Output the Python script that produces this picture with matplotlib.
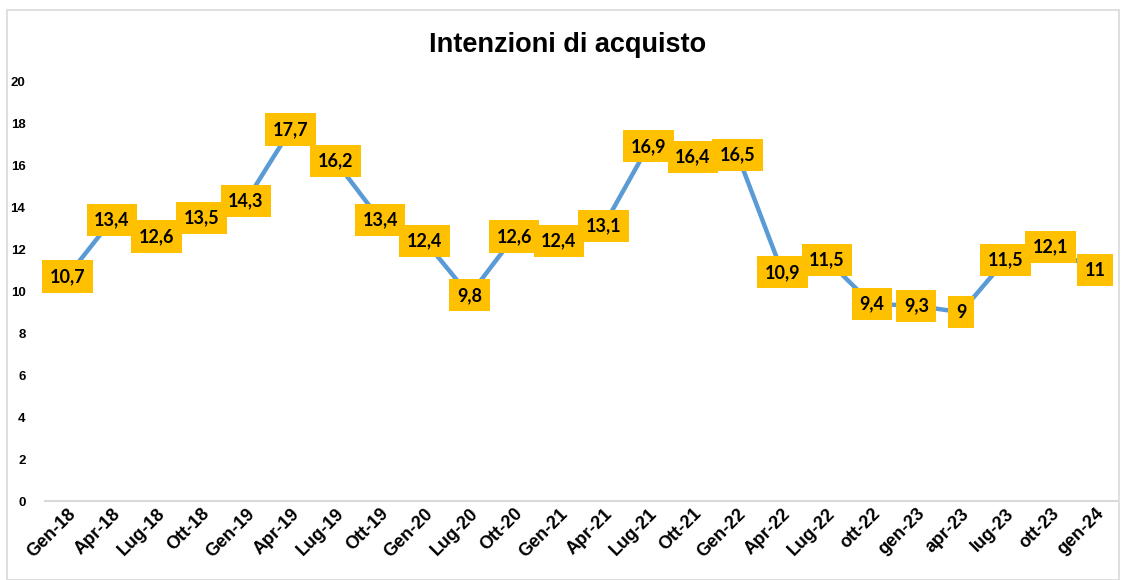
import matplotlib.pyplot as plt
from matplotlib.patches import Rectangle

# dati
periodi = ['Gen-18', 'Apr-18', 'Lug-18', 'Ott-18', 'Gen-19', 'Apr-19', 'Lug-19', 'Ott-19',
           'Gen-20', 'Lug-20', 'Ott-20', 'Gen-21', 'Apr-21', 'Lug-21', 'Ott-21', 'Gen-22',
           'Apr-22', 'Lug-22', 'ott-22', 'gen-23', 'apr-23', 'lug-23', 'ott-23', 'gen-24']
valori = [10.7, 13.4, 12.6, 13.5, 14.3, 17.7, 16.2, 13.4, 12.4, 9.8, 12.6, 12.4, 13.1,
          16.9, 16.4, 16.5, 10.9, 11.5, 9.4, 9.3, 9, 11.5, 12.1, 11]
y_ticks = [0, 2, 4, 6, 8, 10, 12, 14, 16, 18, 20]

plt.rcParams['font.family'] = ['Liberation Sans', 'DejaVu Sans']

fig = plt.figure(figsize=(11.23, 5.8), dpi=100)
# cornice leggera attorno al grafico
fig.patches.append(Rectangle((0.006, 0.0), 0.99, 0.982, transform=fig.transFigure,
                             fill=False, edgecolor='#d9d9d9', linewidth=1.2))

ax = fig.add_axes([0.040, 0.136, 0.955, 0.724])
x = list(range(len(periodi)))
ax.plot(x, valori, color='#5B9BD5', linewidth=3.2, solid_capstyle='round', zorder=2)

for xi, v in zip(x, valori):
    testo = ('%g' % v).replace('.', ',')
    ax.text(xi, v, testo, ha='center', va='center', fontsize=13, fontweight='bold',
            family=['Lato', 'DejaVu Sans'], color='black', zorder=3,
            bbox=dict(boxstyle='square,pad=0.42', facecolor='#FFC000', edgecolor='none'))

ax.set_xlim(-0.5, len(periodi) - 0.5)
ax.set_ylim(0, 20)
ax.set_yticks(y_ticks)
ax.set_xticks(x)
ax.set_xticklabels(periodi, rotation=45, ha='right', rotation_mode='anchor',
                   fontsize=13, fontweight='bold')
for lab in ax.get_yticklabels():
    lab.set_fontweight('bold')
    lab.set_fontsize(9.5)

ax.tick_params(axis='both', length=0)
ax.tick_params(axis='y', pad=14)
ax.tick_params(axis='x', pad=3)
for s in ['top', 'right', 'left']:
    ax.spines[s].set_visible(False)
ax.spines['bottom'].set_color('#d9d9d9')
ax.spines['bottom'].set_linewidth(1.5)

fig.text(0.505, 0.922, 'Intenzioni di acquisto', ha='center', va='center',
         fontsize=19.5, fontweight='bold')

fig.savefig('out.png', dpi=100)
